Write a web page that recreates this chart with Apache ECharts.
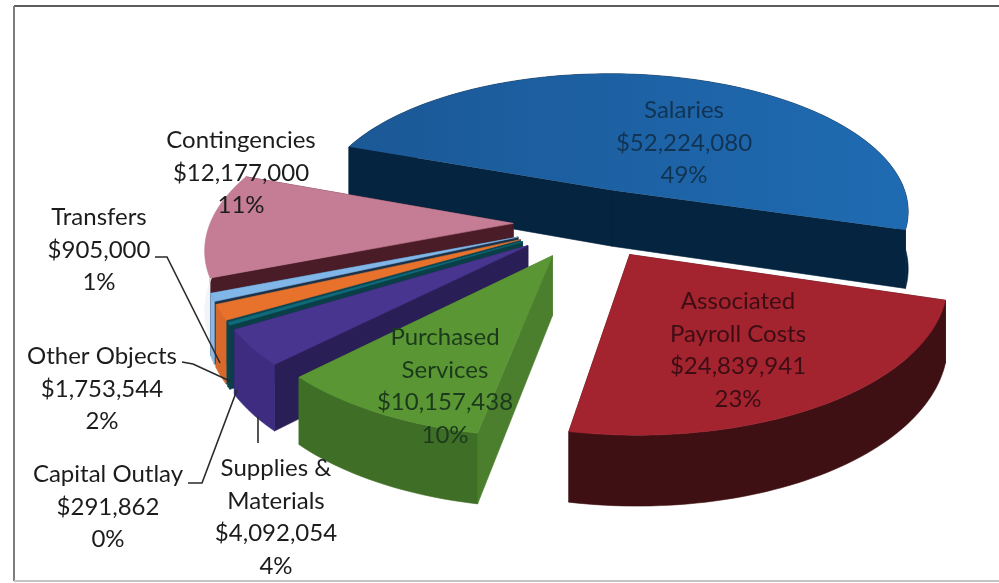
<!DOCTYPE html>
<html>
<head>
<meta charset="utf-8">
<style>html,body{margin:0;padding:0;background:#fff}#chart{width:999px;height:583px}</style>
<script src="https://cdn.jsdelivr.net/npm/echarts@6/dist/echarts.min.js"></script>
</head>
<body>
<div id="chart"></div>
<script>
// Budget by object, drawn clockwise from the first slice
const categories = ['Salaries', 'Associated\nPayroll Costs', 'Purchased\nServices', 'Supplies &\nMaterials', 'Capital Outlay', 'Other Objects', 'Transfers', 'Contingencies'];
const amounts = [52224080, 24839941, 10157438, 4092054, 291862, 1753544, 905000, 12177000];
const topColors = ['#1b5896', '#a3232f', '#5b9635', '#48358f', '#0e6b7a', '#e8722b', '#80b6e8', '#c57c95'];
const topHighlights = ['#1f6bb2', '#a3232f', '#5b9635', '#48358f', '#0e6b7a', '#e8722b', '#80b6e8', '#c57c95'];
const rimColors = ['#04243f', '#3f1013', '#3f6e27', '#3d2c80', '#0a4550', '#d9692a', '#8fb9e4', '#f1f4f9'];
const edgeColors = ['#04243f', '#3f1013', '#4b7f2d', '#2a1e57', '#0a3f48', '#0f4450', '#1e3148', '#4a1c27'];
// Far slices are painted before the near ones
const paintOrder = [0, 7, 6, 5, 4, 3, 1, 2];

// Label placement: centre x, first line centre y, text colour
const labelSpots = [
  [684, 110, '#123454'], [738, 301, '#3c0e14'], [445, 337, '#1b3a1c'], [276, 468, '#1c1c1c'],
  [108, 474, '#1c1c1c'], [102, 356, '#1c1c1c'], [99, 217, '#1c1c1c'], [241, 140, '#1c1c1c']
];
const leaderPaths = [
  [[155, 257], [167, 257], [220, 363]],
  [[182, 362], [193, 364], [230, 381]],
  [[188, 483], [202, 483], [237, 390]],
  [[258, 417], [258, 443]]
];

// Tilted disc with a simple perspective divide
const view = { cx: 589, cy: 223, radius: 303, squash: 0.472, persp: 0.15, depth: 58, explode: 0.25, startDeg: -70 };
const total = amounts.reduce((a, b) => a + b, 0);
const slices = [];
amounts.reduce((acc, v, i) => {
  const next = acc + v / total * 360;
  slices[i] = [acc, next];
  return next;
}, view.startDeg);

function project(x, y, drop) {
  const w = 1 + view.persp * y;
  return [view.cx + view.radius * x / w, view.cy + (-view.radius * view.squash * y + drop) / w];
}

function sliceShapes(i) {
  const [a0, a1] = slices[i].map(d => d * Math.PI / 180);
  const mid = (a0 + a1) / 2;
  const ox = view.explode * Math.sin(mid), oy = view.explode * Math.cos(mid);
  const steps = Math.max(4, Math.ceil((a1 - a0) * 40));
  const rimTop = [], rimBottom = [];
  for (let s = 0; s <= steps; s++) {
    const a = a0 + (a1 - a0) * s / steps;
    const x = ox + Math.sin(a), y = oy + Math.cos(a);
    rimTop.push(project(x, y, 0));
    rimBottom.push(project(x, y, view.depth));
  }
  const apexTop = project(ox, oy, 0), apexBottom = project(ox, oy, view.depth);
  const poly = (points, fill, z2) => ({
    type: 'polygon', z2, shape: { points },
    style: { fill, stroke: typeof fill === 'string' ? fill : null, lineWidth: 0.6 }
  });
  const rank = paintOrder.indexOf(i) * 10;
  const topFill = topColors[i] === topHighlights[i]
    ? topColors[i]
    : new echarts.graphic.LinearGradient(0, 0, 1, 0, [
        { offset: 0, color: topColors[i] }, { offset: 1, color: topHighlights[i] }
      ]);
  return {
    type: 'group',
    children: [
      poly([apexTop, rimTop[0], rimBottom[0], apexBottom], edgeColors[i], rank),
      poly([apexTop, rimTop[steps], rimBottom[steps], apexBottom], edgeColors[i], rank),
      poly(rimTop.concat(rimBottom.slice().reverse()), rimColors[i], rank + 1),
      poly([apexTop].concat(rimTop), topFill, rank + 2)
    ]
  };
}

const money = v => '$' + v.toLocaleString('en-US');
const share = v => Math.round(v / total * 100) + '%';

const lineHeight = 32.8;
const option = {
  animation: false,
  backgroundColor: '#fff',
  graphic: [
    { type: 'line', shape: { x1: 14, y1: 6, x2: 999, y2: 6 }, style: { stroke: '#5c5c5c', lineWidth: 2 } },
    { type: 'line', shape: { x1: 14, y1: 6, x2: 14, y2: 581 }, style: { stroke: '#7d7d7d', lineWidth: 2 } },
    { type: 'line', shape: { x1: 14, y1: 581, x2: 999, y2: 581 }, style: { stroke: '#c4c4c4', lineWidth: 2 } }
  ],
  series: [
    {
      type: 'custom',
      coordinateSystem: 'none',
      silent: true,
      data: paintOrder.map(i => [i, amounts[i]]),
      renderItem: (params, api) => sliceShapes(api.value(0))
    },
    {
      type: 'custom',
      coordinateSystem: 'none',
      silent: true,
      z: 5,
      data: leaderPaths.map((_, i) => [i]),
      renderItem: (params, api) => ({
        type: 'polyline',
        shape: { points: leaderPaths[api.value(0)] },
        style: { stroke: '#2a2a2a', lineWidth: 1.6, fill: null }
      })
    },
    {
      type: 'custom',
      coordinateSystem: 'none',
      silent: true,
      z: 6,
      data: categories.map((_, i) => [i, amounts[i]]),
      renderItem: (params, api) => {
        const i = api.value(0);
        const [x, y, fill] = labelSpots[i];
        return {
          type: 'text',
          style: {
            text: categories[i] + '\n' + money(amounts[i]) + '\n' + share(amounts[i]),
            x, y: y - lineHeight / 2,
            align: 'center', verticalAlign: 'top',
            font: '24px Lato', lineHeight, fill
          }
        };
      }
    }
  ]
};
echarts.init(document.getElementById('chart'), null, { renderer: 'canvas' }).setOption(option);
</script>
</body>
</html>
